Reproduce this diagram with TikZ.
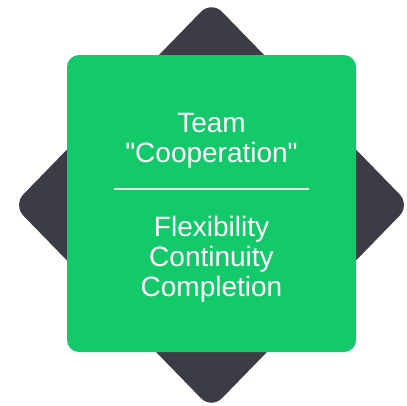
\documentclass[tikz,border=0pt]{standalone}
\usepackage{fontspec}
\setmainfont{Liberation Sans}[Ligatures=TeXOff]
\definecolor{cardgreen}{RGB}{20,201,106}
\definecolor{diamonddark}{RGB}{60,60,70}
\definecolor{rulegray}{RGB}{225,230,228}
\begin{document}
\begin{tikzpicture}[x=1pt,y=-1pt,
  backdiamond/.style={fill=diamonddark, draw=none, rounded corners=15pt},
  card/.style={fill=cardgreen, draw=none, rounded corners=12pt},
  divider/.style={draw=rulegray, line width=1.4pt},
  label/.style={text=white, inner sep=0pt, anchor=base, font=\fontsize{28}{30}\selectfont}]
\useasboundingbox (0,0) rectangle (407,405);
\coordinate (dtop) at (211.5,1);
\coordinate (dleft) at (13,205);
\coordinate (dbottom) at (211.5,409);
\coordinate (dright) at (410,205);
\path[backdiamond] (dtop) -- (dleft) -- (dbottom) -- (dright) -- cycle;
\path[card] (67,55) rectangle (356,352);
\node[label] (team) at (211.5,132) {Team};
\node[label] (coop) at (211.5,162) {"Cooperation"};
\coordinate (divL) at (114,189);
\coordinate (divR) at (309,189);
\draw[divider] (divL) -- (divR);
\node[label] (flex) at (211.5,236) {Flexibility};
\node[label] (cont) at (211.5,266) {Continuity};
\node[label] (compl) at (211.5,296) {Completion};
\end{tikzpicture}
\end{document}
